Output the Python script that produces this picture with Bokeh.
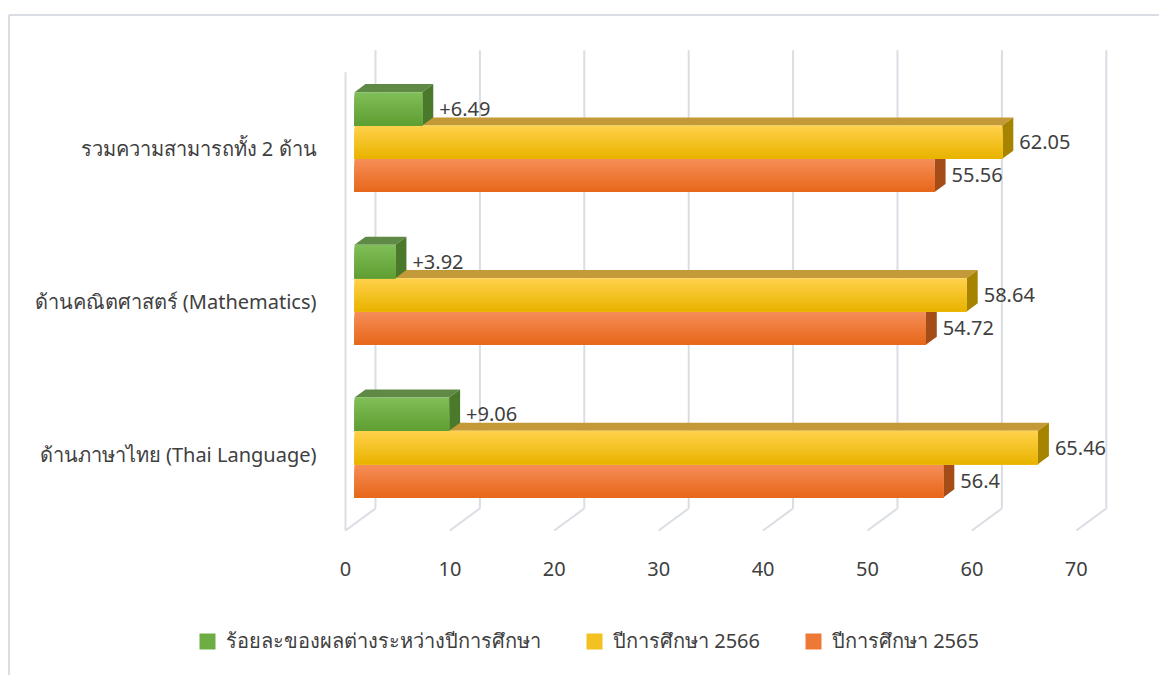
import numpy as np
from bokeh.plotting import figure
from bokeh.models import Range1d, ColumnDataSource, Legend, LegendItem
from bokeh.core.properties import value
from bokeh.embed import file_html
from bokeh.resources import INLINE

# ---------------- data ----------------
categories = ["ด้านภาษาไทย (Thai Language)",
              "ด้านคณิตศาสตร์ (Mathematics)",
              "รวมความสามารถทั้ง 2 ด้าน"]
series_names = ["ร้อยละของผลต่างระหว่างปีการศึกษา", "ปีการศึกษา 2566", "ปีการศึกษา 2565"]
diff_vals = [9.06, 3.92, 6.49]
y2566 = [65.46, 58.64, 62.05]
y2565 = [56.4, 54.72, 55.56]
x_ticks = [0, 10, 20, 30, 40, 50, 60, 70]

# ---------------- layout constants ----------------
W, H = 1159, 675
PXX = 10.44          # px per value unit
X0 = 345.0           # px from frame left to value 0 (front plane)
PXY = 152.7          # px per category
Y0 = 453.6           # px from frame top to first category centre (front plane)
DX = 30.0 / PXX      # depth offset (x units)
DY = 22.0 / PXY      # depth offset (y units)
D0, D1 = 0.3, 0.667  # bar front/back depth
BW = 0.218           # bar thickness (category units)
FONT = "Noto Sans"
TXT = "#404040"
GRID = "#d9dde4"
FS = "20px"

p = figure(width=W, height=H, output_backend="svg", toolbar_location=None,
           x_range=Range1d(-X0 / PXX, (W - X0) / PXX),
           y_range=Range1d(-(H - Y0) / PXY, Y0 / PXY),
           x_axis_type=None, y_axis_type=None, min_border=0)
p.outline_line_color = None
p.background_fill_color = "white"
p.border_fill_color = "white"

# ---------------- outer chart border (top & left) ----------------
xl = (8.5 - X0) / PXX
yt = (Y0 - 14.5) / PXY
p.segment(x0=[xl, xl], y0=[yt, yt], x1=[(W - X0) / PXX + 1, xl], y1=[yt, -(H - Y0) / PXY - 1],
          line_color="#dadde3", line_width=2)

# ---------------- 3D walls / gridlines ----------------
ybot, ytop = -0.5, len(categories) - 0.5
p.segment(x0=[t + DX for t in x_ticks], y0=[ybot + DY] * len(x_ticks),
          x1=[t + DX for t in x_ticks], y1=[ytop + DY] * len(x_ticks),
          line_color=GRID, line_width=2)
p.segment(x0=x_ticks, y0=[ybot] * len(x_ticks),
          x1=[t + DX for t in x_ticks], y1=[ybot + DY] * len(x_ticks),
          line_color=GRID, line_width=2)
p.segment(x0=[0], y0=[ybot], x1=[0], y1=[ytop], line_color=GRID, line_width=2)


def lerp(c1, c2, t):
    a = [int(c1[i:i + 2], 16) for i in (1, 3, 5)]
    b = [int(c2[i:i + 2], 16) for i in (1, 3, 5)]
    return "#%02x%02x%02x" % tuple(round(a[k] + (b[k] - a[k]) * t) for k in range(3))


series = [
    dict(vals=y2565, name=series_names[2], top="#f58d57", bot="#e8681b", topface="#c0622c", side="#a44d18", slot=0,
         lab=[str(v) for v in y2565]),
    dict(vals=y2566, name=series_names[1], top="#ffd04a", bot="#e9b400", topface="#c49a38", side="#a68400", slot=1,
         lab=[str(v) for v in y2566]),
    dict(vals=diff_vals, name=series_names[0], top="#80bd57", bot="#5f9f33", topface="#5f8a46", side="#4a792c", slot=2,
         lab=["+%.2f" % v for v in diff_vals]),
]

NSTRIP = 14
legend_map = {}
for s in series:
    lo = [i + (s["slot"] - 1.5) * BW for i in range(len(categories))]
    hi = [l + BW for l in lo]
    v = s["vals"]
    txs = [[D0 * DX, v[i] + D0 * DX, v[i] + D1 * DX, D1 * DX] for i in range(len(v))]
    tys = [[hi[i] + D0 * DY, hi[i] + D0 * DY, hi[i] + D1 * DY, hi[i] + D1 * DY] for i in range(len(v))]
    p.patches(txs, tys, fill_color=s["topface"], line_color=None)
    sxs = [[v[i] + D0 * DX, v[i] + D1 * DX, v[i] + D1 * DX, v[i] + D0 * DX] for i in range(len(v))]
    sys_ = [[lo[i] + D0 * DY, lo[i] + D1 * DY, hi[i] + D1 * DY, hi[i] + D0 * DY] for i in range(len(v))]
    p.patches(sxs, sys_, fill_color=s["side"], line_color=None)
    # front faces: layered gradient (each layer runs to bar bottom, so no seams)
    L, R, B, T, C = [], [], [], [], []
    for k in range(NSTRIP):
        for i in range(len(v)):
            L.append(D0 * DX)
            R.append(v[i] + D0 * DX)
            B.append(lo[i] + D0 * DY)
            T.append(hi[i] - k * BW / NSTRIP + D0 * DY)
            C.append(lerp(s["top"], s["bot"], k / (NSTRIP - 1)))
    src = ColumnDataSource(dict(left=L, right=R, bottom=B, top=T, color=C))
    r = p.quad(left="left", right="right", bottom="bottom", top="top", source=src,
               fill_color="color", line_color=None)
    legend_map[s["name"]] = r
    p.text(x=[v[i] + D1 * DX + 6.0 / PXX for i in range(len(v))],
           y=[(lo[i] + hi[i]) / 2 + D0 * DY for i in range(len(v))],
           text=s["lab"], text_font=value(FONT), text_font_size=FS, text_color=TXT,
           text_align="left", text_baseline="middle")

p.text(x=[-29.0 / PXX] * len(categories), y=list(range(len(categories))), text=categories,
       text_font=value(FONT), text_font_size=FS, text_color=TXT,
       text_align="right", text_baseline="middle")

p.text(x=x_ticks, y=[-(568 - Y0) / PXY] * len(x_ticks), text=[str(t) for t in x_ticks],
       text_font=value(FONT), text_font_size=FS, text_color=TXT,
       text_align="center", text_baseline="alphabetic")

items = [LegendItem(label=n, renderers=[legend_map[n]], index=3 * (NSTRIP // 2)) for n in series_names]
leg = Legend(items=items, orientation="horizontal", location=(197, 18),
             padding=0, margin=0, spacing=43, label_standoff=9,
             glyph_width=20, glyph_height=20, label_height=17,
             label_text_font=FONT, label_text_font_size=FS, label_text_color=TXT,
             border_line_color=None, background_fill_alpha=0)
p.add_layout(leg, "center")

open("out.html", "w").write(file_html(p, INLINE))
